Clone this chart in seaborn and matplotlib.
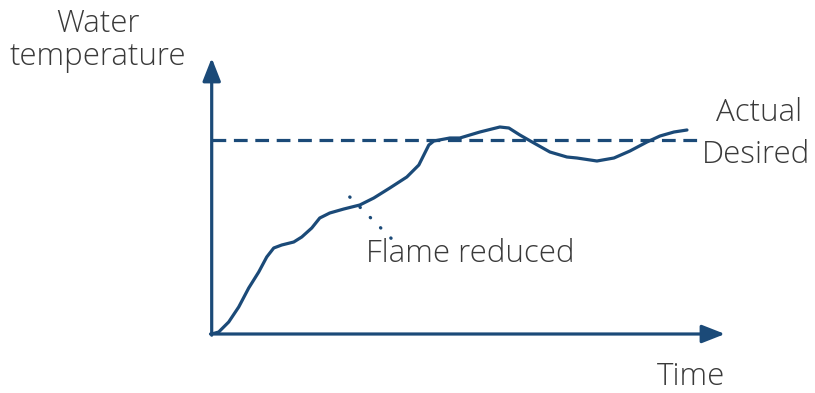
import matplotlib
matplotlib.use("Agg")
import matplotlib.pyplot as plt
import seaborn as sns
import pandas as pd

# Water temperature over time while heating (arbitrary units)
time = [0, 7, 17, 27, 37, 47, 55, 62, 70, 82, 90, 100, 108, 118, 132, 148, 162, 178,
        195, 207, 212, 217, 222, 238, 248, 268, 288, 297, 308, 322, 338, 355, 365,
        385, 402, 418, 435, 448, 462, 475]
temperature = [0, 2, 12, 27, 46, 62, 77, 86, 89, 92, 97, 106, 116, 121, 125, 129, 136,
               146, 157, 169, 179, 189, 193, 196, 196, 202, 207, 206, 199, 191, 182,
               177, 176, 173, 176, 183, 192, 198, 202, 204]
desired_temp = 194
desired_end = 485
flame_reduced_at = (148, 129)

x_max, y_max = 513, 276
blue = "#1b4a78"
text_color = "#3a3a3a"

sns.set_theme(style="white")
plt.rcParams["font.family"] = ["Open Sans", "DejaVu Sans"]

W, H = 815, 393
fig = plt.figure(figsize=(W / 100, H / 100), dpi=100)
ax = fig.add_axes([211.7 / W, (H - 334) / H, (725 - 211.7) / W, (334 - 58) / H])

df = pd.DataFrame({"time": time, "temperature": temperature})
sns.lineplot(data=df, x="time", y="temperature", ax=ax, color=blue, lw=2.3,
             sort=False, estimator=None, solid_capstyle="round", solid_joinstyle="round")
ax.plot([0, desired_end], [desired_temp, desired_temp], color=blue, lw=2.3,
        dashes=(4.3, 2.4))

ax.set_xlim(0, x_max)
ax.set_ylim(0, y_max)
ax.set_xticks([])
ax.set_yticks([])
ax.set_xlabel("")
ax.set_ylabel("")
for s in ax.spines.values():
    s.set_visible(False)

# Axes drawn as arrows
arrow = dict(arrowstyle="-|>,head_length=1.4,head_width=0.55", color=blue, lw=2.3,
             shrinkA=0, shrinkB=0, mutation_scale=10)
ax.annotate("", xy=(x_max, 0), xytext=(-1.2, 0), arrowprops=arrow, annotation_clip=False)
ax.annotate("", xy=(0, y_max), xytext=(0, -1.2), arrowprops=arrow, annotation_clip=False)

# Dotted leader from the curve towards the annotation
fx, fy = flame_reduced_at
ax.plot([fx - 10, fx + 32], [fy + 8, fy - 34], color=blue, lw=2.4,
        linestyle=(0, (0.1, 4.25)), dash_capstyle="round", clip_on=False)

fs = 22.5


def label(x, y, s, ha="center"):
    fig.text(x / W, 1 - y / H, s, ha=ha, fontsize=fs, color=text_color,
             fontweight="light", va="baseline")


label(98, 32, "Water")
label(98, 65, "temperature")
label(366, 262, "Flame reduced", ha="left")
label(759, 121, "Actual")
label(756, 163, "Desired")
label(691, 385, "Time")

fig.savefig("out.png", dpi=100)
